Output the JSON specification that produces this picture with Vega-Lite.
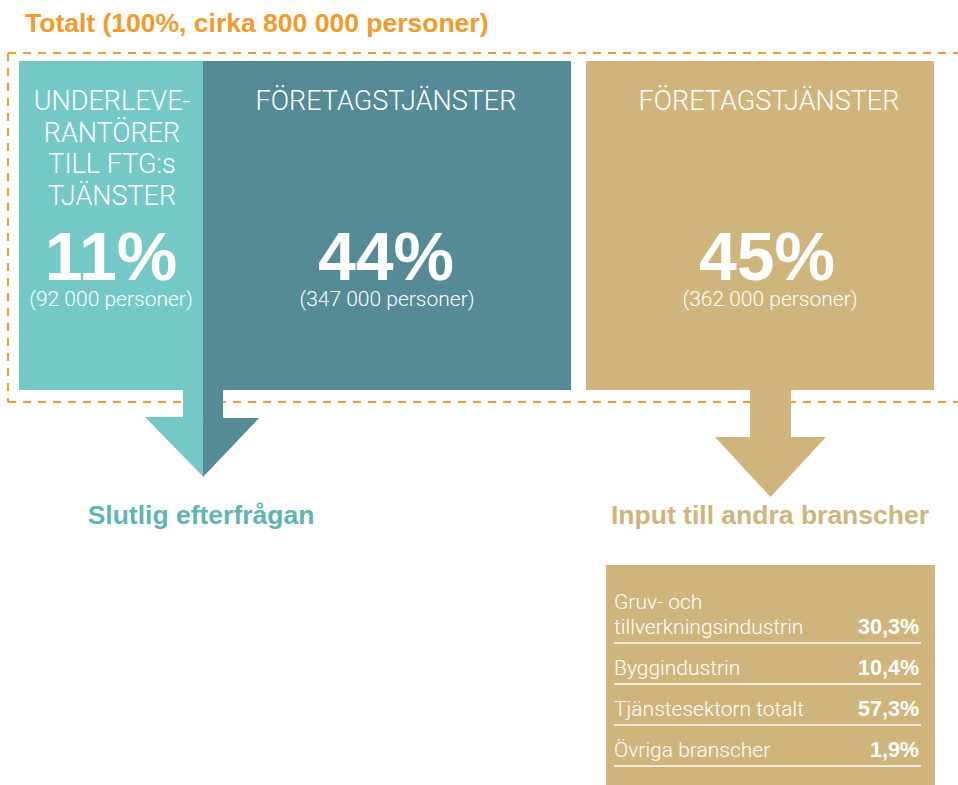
{
  "$schema": "https://vega.github.io/schema/vega-lite/v6.json",
  "width": 958,
  "height": 785,
  "padding": 0,
  "autosize": "none",
  "background": "white",
  "config": {"view": {"stroke": null}},
  "datasets": {
    "frame": [
      {"edge": "top", "left": 8, "right": 958, "top": 53, "bottom": 53},
      {"edge": "left", "left": 8, "right": 8, "top": 53, "bottom": 402},
      {"edge": "bottom", "left": 8, "right": 958, "top": 402, "bottom": 402}
    ],
    "blocks": [
      {"segment": "Underleverantörer", "share": 11, "persons": 92000, "left": 19, "right": 203, "top": 61, "bottom": 390},
      {"segment": "Företagstjänster, slutlig efterfrågan", "share": 44, "persons": 347000, "left": 203, "right": 571, "top": 61, "bottom": 390},
      {"segment": "Företagstjänster, input", "share": 45, "persons": 362000, "left": 586, "right": 934, "top": 61, "bottom": 390},
      {"segment": "Företagstjänster, input", "left": 606, "right": 935, "top": 565, "bottom": 785},
      {"segment": "Underleverantörer", "left": 183, "right": 203, "top": 389, "bottom": 417},
      {"segment": "Företagstjänster, slutlig efterfrågan", "left": 203, "right": 223, "top": 389, "bottom": 418},
      {"segment": "Företagstjänster, input", "left": 750, "right": 791, "top": 389, "bottom": 437.5}
    ],
    "heads": [
      {"segment": "Underleverantörer", "left": 145, "top": 417, "bottom": 417},
      {"segment": "Underleverantörer", "left": 203.5, "top": 417, "bottom": 477},
      {"segment": "Företagstjänster, slutlig efterfrågan", "left": 203, "top": 418, "bottom": 477},
      {"segment": "Företagstjänster, slutlig efterfrågan", "left": 259, "top": 418, "bottom": 418},
      {"segment": "Företagstjänster, input", "left": 715, "top": 437, "bottom": 437},
      {"segment": "Företagstjänster, input", "left": 770.5, "top": 437, "bottom": 497},
      {"segment": "Företagstjänster, input", "left": 826, "top": 437, "bottom": 437}
    ],
    "texts": [
      {"role": "title", "text": "Totalt (100%, cirka 800 000 personer)", "left": 25, "top": 32},
      {"role": "heading", "text": "UNDERLEVE-", "left": 112, "top": 110},
      {"role": "heading", "text": "RANTÖRER", "left": 112, "top": 142},
      {"role": "heading", "text": "TILL FTG:s", "left": 112, "top": 173},
      {"role": "heading", "text": "TJÄNSTER", "left": 112, "top": 205},
      {"role": "heading", "text": "FÖRETAGSTJÄNSTER", "left": 386, "top": 110},
      {"role": "heading", "text": "FÖRETAGSTJÄNSTER", "left": 769, "top": 110},
      {"role": "share", "text": "11%", "left": 111, "top": 280},
      {"role": "share", "text": "44%", "left": 386, "top": 280},
      {"role": "share", "text": "45%", "left": 767, "top": 280},
      {"role": "persons", "text": "(92 000 personer)", "left": 111, "top": 306},
      {"role": "persons", "text": "(347 000 personer)", "left": 387, "top": 306},
      {"role": "persons", "text": "(362 000 personer)", "left": 770, "top": 306},
      {"role": "final", "text": "Slutlig efterfrågan", "left": 201, "top": 524},
      {"role": "input", "text": "Input till andra branscher", "left": 770, "top": 524},
      {"role": "tlabel", "text": "Gruv- och", "left": 614, "top": 609},
      {"role": "tlabel", "text": "tillverkningsindustrin", "left": 614, "top": 634},
      {"role": "tlabel", "text": "Byggindustrin", "left": 614, "top": 675},
      {"role": "tlabel", "text": "Tjänstesektorn totalt", "left": 614, "top": 716},
      {"role": "tlabel", "text": "Övriga branscher", "left": 614, "top": 757},
      {"role": "tvalue", "text": "30,3%", "left": 919, "top": 634},
      {"role": "tvalue", "text": "10,4%", "left": 919, "top": 675},
      {"role": "tvalue", "text": "57,3%", "left": 919, "top": 716},
      {"role": "tvalue", "text": "1,9%", "left": 919, "top": 757}
    ],
    "tablelines": [
      {"branch": "Gruv- och tillverkningsindustrin", "share": 30.3, "left": 614, "right": 921, "top": 643},
      {"branch": "Byggindustrin", "share": 10.4, "left": 614, "right": 921, "top": 684},
      {"branch": "Tjänstesektorn totalt", "share": 57.3, "left": 614, "right": 921, "top": 725},
      {"branch": "Övriga branscher", "share": 1.9, "left": 614, "right": 921, "top": 766}
    ]
  },
  "layer": [
    {
      "data": {"name": "frame"},
      "mark": {"type": "rule", "color": "#F39A2B", "strokeWidth": 2, "strokeDash": [8, 7]},
      "encoding": {
        "x": {"field": "left", "type": "quantitative", "scale": {"domain": [0, 958], "nice": false, "zero": false}, "axis": null},
        "x2": {"field": "right"},
        "y": {"field": "top", "type": "quantitative", "scale": {"domain": [0, 785], "nice": false, "zero": false, "reverse": true}, "axis": null},
        "y2": {"field": "bottom"}
      }
    },
    {
      "data": {"name": "blocks"},
      "mark": {"type": "rect"},
      "encoding": {
        "x": {"field": "left", "type": "quantitative", "scale": {"domain": [0, 958], "nice": false, "zero": false}, "axis": null},
        "x2": {"field": "right"},
        "y": {"field": "top", "type": "quantitative", "scale": {"domain": [0, 785], "nice": false, "zero": false, "reverse": true}, "axis": null},
        "y2": {"field": "bottom"},
        "color": {"field": "segment", "type": "nominal", "legend": null,
          "scale": {"domain": ["Underleverantörer", "Företagstjänster, slutlig efterfrågan", "Företagstjänster, input"], "range": ["#74C9C6", "#548B97", "#CFB57B"]}}
      }
    },
    {
      "data": {"name": "heads"},
      "mark": {"type": "area", "orient": "vertical"},
      "encoding": {
        "x": {"field": "left", "type": "quantitative", "scale": {"domain": [0, 958], "nice": false, "zero": false}, "axis": null},
        "y": {"field": "top", "type": "quantitative", "stack": null, "scale": {"domain": [0, 785], "nice": false, "zero": false, "reverse": true}, "axis": null},
        "y2": {"field": "bottom"},
        "color": {"field": "segment", "type": "nominal", "legend": null,
          "scale": {"domain": ["Underleverantörer", "Företagstjänster, slutlig efterfrågan", "Företagstjänster, input"], "range": ["#74C9C6", "#548B97", "#CFB57B"]}}
      }
    },
    {
      "data": {"name": "tablelines"},
      "mark": {"type": "rule", "color": "white", "strokeWidth": 1.5},
      "encoding": {
        "x": {"field": "left", "type": "quantitative", "scale": {"domain": [0, 958], "nice": false, "zero": false}, "axis": null},
        "x2": {"field": "right"},
        "y": {"field": "top", "type": "quantitative", "scale": {"domain": [0, 785], "nice": false, "zero": false, "reverse": true}, "axis": null}
      }
    },
    {
      "data": {"name": "texts"},
      "transform": [{"filter": "datum.role === 'title'"}],
      "mark": {"type": "text", "align": "left", "baseline": "alphabetic", "font": "Liberation Sans", "fontWeight": "bold", "fontSize": 26.5, "color": "#F39A2B"},
      "encoding": {
        "x": {"field": "left", "type": "quantitative", "scale": {"domain": [0, 958], "nice": false, "zero": false}, "axis": null},
        "y": {"field": "top", "type": "quantitative", "scale": {"domain": [0, 785], "nice": false, "zero": false, "reverse": true}, "axis": null},
        "text": {"field": "text"}
      }
    },
    {
      "data": {"name": "texts"},
      "transform": [{"filter": "datum.role === 'heading'"}],
      "mark": {"type": "text", "align": "center", "baseline": "alphabetic", "font": "Roboto", "fontWeight": 300, "fontSize": 27, "color": "white"},
      "encoding": {
        "x": {"field": "left", "type": "quantitative", "scale": {"domain": [0, 958], "nice": false, "zero": false}, "axis": null},
        "y": {"field": "top", "type": "quantitative", "scale": {"domain": [0, 785], "nice": false, "zero": false, "reverse": true}, "axis": null},
        "text": {"field": "text"}
      }
    },
    {
      "data": {"name": "texts"},
      "transform": [{"filter": "datum.role === 'share'"}],
      "mark": {"type": "text", "align": "center", "baseline": "alphabetic", "font": "Liberation Sans", "fontWeight": "bold", "fontSize": 68, "color": "white"},
      "encoding": {
        "x": {"field": "left", "type": "quantitative", "scale": {"domain": [0, 958], "nice": false, "zero": false}, "axis": null},
        "y": {"field": "top", "type": "quantitative", "scale": {"domain": [0, 785], "nice": false, "zero": false, "reverse": true}, "axis": null},
        "text": {"field": "text"}
      }
    },
    {
      "data": {"name": "texts"},
      "transform": [{"filter": "datum.role === 'persons'"}],
      "mark": {"type": "text", "align": "center", "baseline": "alphabetic", "font": "Roboto", "fontWeight": 300, "fontSize": 21, "color": "white"},
      "encoding": {
        "x": {"field": "left", "type": "quantitative", "scale": {"domain": [0, 958], "nice": false, "zero": false}, "axis": null},
        "y": {"field": "top", "type": "quantitative", "scale": {"domain": [0, 785], "nice": false, "zero": false, "reverse": true}, "axis": null},
        "text": {"field": "text"}
      }
    },
    {
      "data": {"name": "texts"},
      "transform": [{"filter": "datum.role === 'final'"}],
      "mark": {"type": "text", "align": "center", "baseline": "alphabetic", "font": "Liberation Sans", "fontWeight": "bold", "fontSize": 26.5, "color": "#5FB5B1"},
      "encoding": {
        "x": {"field": "left", "type": "quantitative", "scale": {"domain": [0, 958], "nice": false, "zero": false}, "axis": null},
        "y": {"field": "top", "type": "quantitative", "scale": {"domain": [0, 785], "nice": false, "zero": false, "reverse": true}, "axis": null},
        "text": {"field": "text"}
      }
    },
    {
      "data": {"name": "texts"},
      "transform": [{"filter": "datum.role === 'input'"}],
      "mark": {"type": "text", "align": "center", "baseline": "alphabetic", "font": "Liberation Sans", "fontWeight": "bold", "fontSize": 26.5, "color": "#CFB57B"},
      "encoding": {
        "x": {"field": "left", "type": "quantitative", "scale": {"domain": [0, 958], "nice": false, "zero": false}, "axis": null},
        "y": {"field": "top", "type": "quantitative", "scale": {"domain": [0, 785], "nice": false, "zero": false, "reverse": true}, "axis": null},
        "text": {"field": "text"}
      }
    },
    {
      "data": {"name": "texts"},
      "transform": [{"filter": "datum.role === 'tlabel'"}],
      "mark": {"type": "text", "align": "left", "baseline": "alphabetic", "font": "Roboto", "fontWeight": 300, "fontSize": 21, "color": "white"},
      "encoding": {
        "x": {"field": "left", "type": "quantitative", "scale": {"domain": [0, 958], "nice": false, "zero": false}, "axis": null},
        "y": {"field": "top", "type": "quantitative", "scale": {"domain": [0, 785], "nice": false, "zero": false, "reverse": true}, "axis": null},
        "text": {"field": "text"}
      }
    },
    {
      "data": {"name": "texts"},
      "transform": [{"filter": "datum.role === 'tvalue'"}],
      "mark": {"type": "text", "align": "right", "baseline": "alphabetic", "font": "Liberation Sans", "fontWeight": "bold", "fontSize": 21.5, "color": "white"},
      "encoding": {
        "x": {"field": "left", "type": "quantitative", "scale": {"domain": [0, 958], "nice": false, "zero": false}, "axis": null},
        "y": {"field": "top", "type": "quantitative", "scale": {"domain": [0, 785], "nice": false, "zero": false, "reverse": true}, "axis": null},
        "text": {"field": "text"}
      }
    }
  ]
}
